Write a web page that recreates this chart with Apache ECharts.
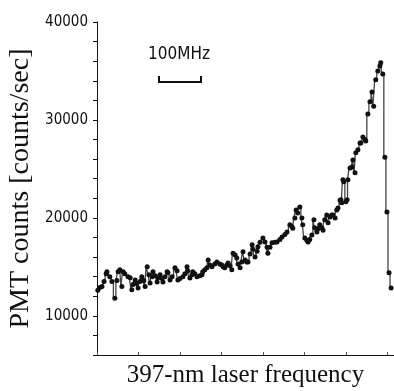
<!DOCTYPE html>
<html>
<head>
<meta charset="utf-8">
<script src="https://cdn.jsdelivr.net/npm/echarts@6/dist/echarts.min.js"></script>
<style>
  html, body { margin: 0; padding: 0; background: #fff; }
  #chart { width: 394px; height: 391px; }
</style>
</head>
<body>
<div id="chart"></div>
<script>
// scan position [MHz, arbitrary offset]
const freq = [
  2, 7, 12, 17, 22, 24, 31, 36, 43, 48, 51, 55, 60, 63, 67, 75, 80, 84, 87, 92,
  96, 99, 104, 108, 113, 116, 121, 125, 128, 133, 135, 140, 145, 147, 152, 157, 159, 164, 169, 171,
  176, 181, 188, 193, 195, 200, 207, 212, 217, 219, 224, 229, 231, 236, 241, 248, 253, 255, 260, 265,
  268, 272, 277, 284, 289, 296, 301, 304, 308, 313, 316, 321, 325, 328, 333, 337, 340, 345, 349, 352,
  357, 361, 364, 369, 374, 376, 381, 386, 388, 393, 400, 405, 410, 412, 417, 422, 429, 434, 441, 446,
  453, 458, 465, 470, 472, 477, 480, 484, 489, 494, 496, 501, 506, 509, 513, 518, 523, 525, 530, 533,
  537, 542, 545, 549, 554, 557, 562, 566, 569, 574, 578, 581, 586, 588, 590, 593, 595, 600, 603, 605,
  610, 615, 617, 622, 624, 629, 634, 636, 641, 646, 648, 653, 658, 663, 667, 672, 677, 682, 684, 689,
  694, 699, 704, 709
];
// PMT counts [counts/sec]
const counts = [
  12600, 12900, 13000, 13500, 14300, 14500, 14000, 13500, 11800, 13600, 14500, 14700, 13000, 14500, 14300, 14000, 13900, 12650, 13200, 13650,
  13300, 12850, 13500, 14000, 13600, 13000, 15000, 14200, 13350, 14000, 14500, 14100, 13450, 13900, 14200, 13800, 13450, 14000, 14500, 14400,
  13650, 14000, 14900, 14600, 13650, 13800, 14000, 14300, 15000, 14600, 13850, 14200, 14500, 14300, 14000, 14100, 14200, 14500, 14700, 14900,
  15700, 15200, 15000, 15300, 15500, 15300, 15200, 15000, 14900, 15200, 15400, 15100, 14700, 16400, 16200, 15900, 15300, 14900, 15500, 16550,
  15700, 15500, 15500, 16300, 17250, 16800, 16000, 16600, 17050, 17500, 17950, 17550, 17000, 16400, 17000, 17450, 17500, 17550, 17800, 18050,
  18300, 18550, 19300, 19100, 18950, 20000, 20800, 20500, 21100, 20000, 19300, 17950, 17700, 17550, 17800, 18250, 19800, 19000, 18550, 18900,
  19300, 19000, 18750, 19800, 20300, 19500, 20100, 20300, 20300, 20000, 20800, 21000, 21800, 21850, 21550, 23900, 23700, 21650, 21850, 23900,
  25100, 25200, 25900, 24600, 26650, 26950, 27650, 27650, 28250, 28000, 27850, 30600, 31850, 32850, 31400, 34100, 35000, 35500, 35850, 34700,
  26200, 20600, 14400, 12850
];
const yTickLabels = [10000, 20000, 30000, 40000];
const scaleBarLabel = '100MHz';

const narrowFont = "'DejaVu Sans Condensed', 'Liberation Sans Narrow', 'DejaVu Sans', sans-serif";

const chart = echarts.init(document.getElementById('chart'));
chart.setOption({
  animation: false,
  backgroundColor: '#fff',
  grid: { left: 97, right: 0, top: 22, bottom: 36, outerBoundsMode: 'none', containLabel: false },
  xAxis: {
    type: 'value',
    min: 0,
    max: 716,
    interval: 100,
    name: '397-nm laser frequency',
    nameLocation: 'middle',
    nameGap: 8,
    nameTextStyle: { fontFamily: 'Liberation Serif', fontSize: 25, color: '#111', verticalAlign: 'top' },
    axisLine: { onZero: false, lineStyle: { color: '#111', width: 1 } },
    axisTick: { inside: true, length: 3, lineStyle: { color: '#555' } },
    axisLabel: { show: false },
    splitLine: { show: false }
  },
  yAxis: {
    type: 'value',
    min: 6000,
    max: 40000,
    interval: 2000,
    name: 'PMT counts [counts/sec]',
    nameLocation: 'middle',
    nameGap: 57,
    nameTextStyle: { fontFamily: 'Liberation Serif', fontSize: 28, color: '#111' },
    axisLine: { show: true, lineStyle: { color: '#111', width: 1 } },
    axisTick: { length: 4, lineStyle: { color: '#111' } },
    axisLabel: {
      margin: 9,
      fontFamily: narrowFont,
      fontSize: 15,
      color: '#111',
      formatter: v => (yTickLabels.includes(v) ? String(v) : '')
    },
    splitLine: { show: false }
  },
  series: [{
    type: 'line',
    step: 'middle',
    data: freq.map((f, i) => [f, counts[i]]),
    symbol: 'circle',
    symbolSize: 5,
    itemStyle: { color: '#111' },
    lineStyle: { color: '#444', width: 1.3 }
  }],
  graphic: [
    {
      type: 'text',
      left: 148,
      top: 46,
      style: { text: scaleBarLabel, fontFamily: narrowFont, fontSize: 17, fill: '#111' }
    },
    {
      type: 'polyline',
      shape: { points: [[159, 76], [159, 82], [201, 82], [201, 76]] },
      style: { stroke: '#111', lineWidth: 2, fill: null }
    }
  ]
});
</script>
</body>
</html>
